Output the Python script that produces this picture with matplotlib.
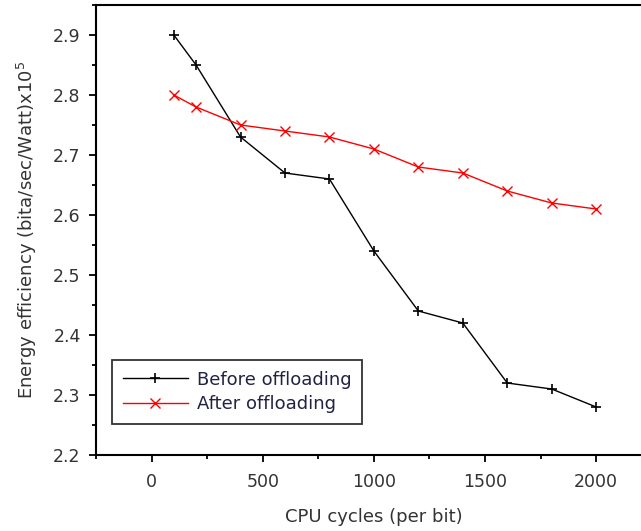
import matplotlib
matplotlib.use("Agg")
import matplotlib.pyplot as plt
from matplotlib.ticker import MultipleLocator

plt.rcParams['font.family'] = ['DejaVu Sans']

# CPU cycles per bit
cycles = [100, 200, 400, 600, 800, 1000, 1200, 1400, 1600, 1800, 2000]
# energy efficiency (x10^5)
before = [2.90, 2.85, 2.73, 2.67, 2.66, 2.54, 2.44, 2.42, 2.32, 2.31, 2.28]
after = [2.80, 2.78, 2.75, 2.74, 2.73, 2.71, 2.68, 2.67, 2.64, 2.62, 2.61]

fig = plt.figure(figsize=(6.41, 5.31), dpi=100)
# right edge sits past the figure, the original is cropped there
ax = fig.add_axes([0.1498, 0.1431, 0.867, 0.8475])

ax.plot(cycles, before, color='black', lw=1, marker='+', ms=7, mew=1.2,
        label='Before offloading')
ax.plot(cycles, after, color='red', lw=1, marker='x', ms=7, mew=1,
        label='After offloading')

ax.set_xlim(-250, 2250)
ax.set_ylim(2.2, 2.95)
ax.xaxis.set_major_locator(MultipleLocator(500))
ax.xaxis.set_minor_locator(MultipleLocator(250))
ax.yaxis.set_minor_locator(MultipleLocator(0.05))
ax.set_yticks([2.2, 2.3, 2.4, 2.5, 2.6, 2.7, 2.8, 2.9])
ax.set_yticklabels(['2.2', '2.3', '2.4', '2.5', '2.6', '2.7', '2.8', '2.9'])

ax.tick_params(which='major', direction='out', length=5, width=1.3,
               labelsize=12.5, colors='black', labelcolor='#333333',
               top=False, right=False, pad=6)
ax.tick_params(which='minor', direction='out', length=3, width=1.3,
               top=False, right=False)
ax.tick_params(axis='x', pad=8)

for s in ax.spines.values():
    s.set_linewidth(1.5)
ax.spines['right'].set_visible(False)

ax.set_xlabel('CPU cycles (per bit)', fontsize=13, color='#333333', labelpad=12)
ax.set_ylabel('Energy efficiency (bita/sec/Watt)x10$^5$', fontsize=13,
              color='#333333', labelpad=10)

leg = ax.legend(loc='lower left', bbox_to_anchor=(0.029, 0.069),
                borderaxespad=0, fontsize=13, frameon=True, fancybox=False,
                handlelength=3.6, handletextpad=0.5, borderpad=0.6,
                labelspacing=0.35)
leg.get_frame().set_edgecolor('black')
leg.get_frame().set_linewidth(1.3)
for t in leg.get_texts():
    t.set_color('#222244')

fig.savefig('out.png', dpi=100)
